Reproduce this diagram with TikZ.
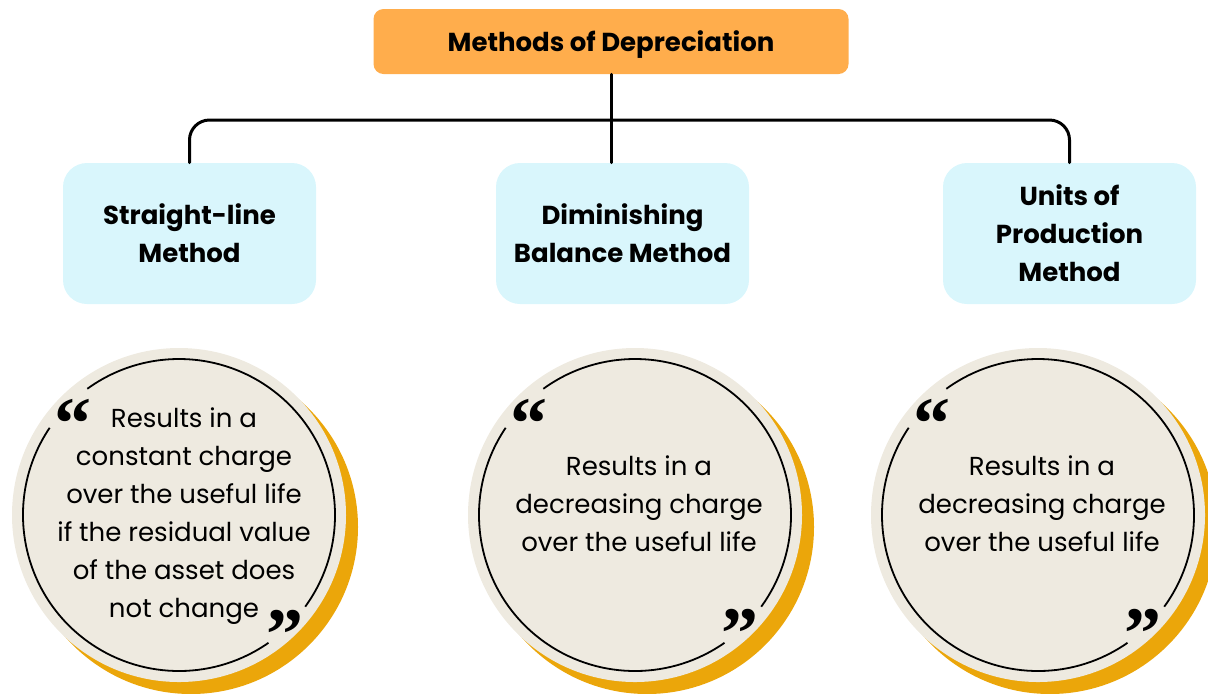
\documentclass[tikz,border=0pt]{standalone}
\usepackage{fontspec}
\setmainfont{Poppins}
\newfontfamily\quotefont{Liberation Serif}
\usepackage{xcolor}
\usepackage{tikz}
\usetikzlibrary{positioning, calc}
\definecolor{titleorange}{RGB}{255,173,76}
\definecolor{methodblue}{RGB}{217,246,252}
\definecolor{quotebeige}{RGB}{238,234,224}
\definecolor{shadowgold}{RGB}{235,166,10}
\tikzset{
    % Title and method boxes
    titlebox/.style={rectangle, rounded corners=5pt, fill=titleorange, minimum width=237.5pt, minimum height=32.5pt, text depth=0pt, font=\fontsize{13}{19}\selectfont\bfseries, align=center},
    methodbox/.style={rectangle, rounded corners=12pt, fill=methodblue, minimum width=126.5pt, minimum height=70.5pt, font=\fontsize{13}{19}\selectfont\bfseries, align=center},
    % Quote discs
    golddisc/.style={circle, fill=shadowgold, minimum size=167pt, inner sep=0pt},
    beigedisc/.style={circle, fill=quotebeige, minimum size=167pt, inner sep=0pt},
    ring/.style={line width=0.9pt, black},
    quotetext/.style={font=\fontsize{13}{19}\selectfont, align=center, inner sep=0pt},
    quotemark/.style={font=\quotefont\fontsize{37}{37}\selectfont\bfseries, inner sep=0pt, anchor=north},
    % Connector style
    link/.style={line width=1.5pt, black, line cap=round},
}

\begin{document}
\begin{tikzpicture}[x=0.5pt, y=-0.5pt]
\useasboundingbox (0,0) rectangle (1208,693);

% ============================================================
% Title and the three methods
% ============================================================
\node[titlebox] (title) at (611, 41.5) {Methods of Depreciation};

\node[methodbox] (slm) at (189.5, 233.5) {Straight-line\\Method};
\node[methodbox] (dbm) at (622.5, 233.5) {Diminishing\\Balance Method};
\node[methodbox] (upm) at (1069.5, 233.5) {Units of\\Production\\Method};

\coordinate (bar) at (611, 120);
\draw[link] (title.south) -- (title.south |- dbm.north);
\draw[link, rounded corners=10pt] (slm.north) |- (bar) -| (upm.north);

% ============================================================
% Quote 1: straight-line
% ============================================================
\node[golddisc] at (191, 527) {};
\node[beigedisc] (c1) at (179, 515) {};
\draw[ring] ([shift={(146:78pt)}]c1.center) arc (146:305:78pt);
\draw[ring] ([shift={(324:78pt)}]c1.center) arc (324:486:78pt);
\node[quotetext] (t1) at ([shift={(5,1)}]c1.center) {Results in a\\constant charge\\over the useful life\\if the residual value\\of the asset does\\not change};
\node[quotemark] (o1) at ([shift={(-106,-116)}]c1.center) {“};
\node[quotemark] (e1) at ([shift={(106,95)}]c1.center) {”};

% ============================================================
% Quote 2: diminishing balance
% ============================================================
\node[golddisc] at (647, 527) {};
\node[beigedisc] (c2) at (635, 515) {};
\draw[ring] ([shift={(146:78pt)}]c2.center) arc (146:305:78pt);
\draw[ring] ([shift={(324:78pt)}]c2.center) arc (324:486:78pt);
\node[quotetext] (t2) at ([shift={(4,-11)}]c2.center) {Results in a\\decreasing charge\\over the useful life};
\node[quotemark] (o2) at ([shift={(-106,-116)}]c2.center) {“};
\node[quotemark] (e2) at ([shift={(105,94)}]c2.center) {”};

% ============================================================
% Quote 3: units of production
% ============================================================
\node[golddisc] at (1050, 527) {};
\node[beigedisc] (c3) at (1038, 515) {};
\draw[ring] ([shift={(146:78pt)}]c3.center) arc (146:305:78pt);
\draw[ring] ([shift={(324:78pt)}]c3.center) arc (324:486:78pt);
\node[quotetext] (t3) at ([shift={(4,-11)}]c3.center) {Results in a\\decreasing charge\\over the useful life};
\node[quotemark] (o3) at ([shift={(-106,-116)}]c3.center) {“};
\node[quotemark] (e3) at ([shift={(105,94)}]c3.center) {”};

\end{tikzpicture}
\end{document}
